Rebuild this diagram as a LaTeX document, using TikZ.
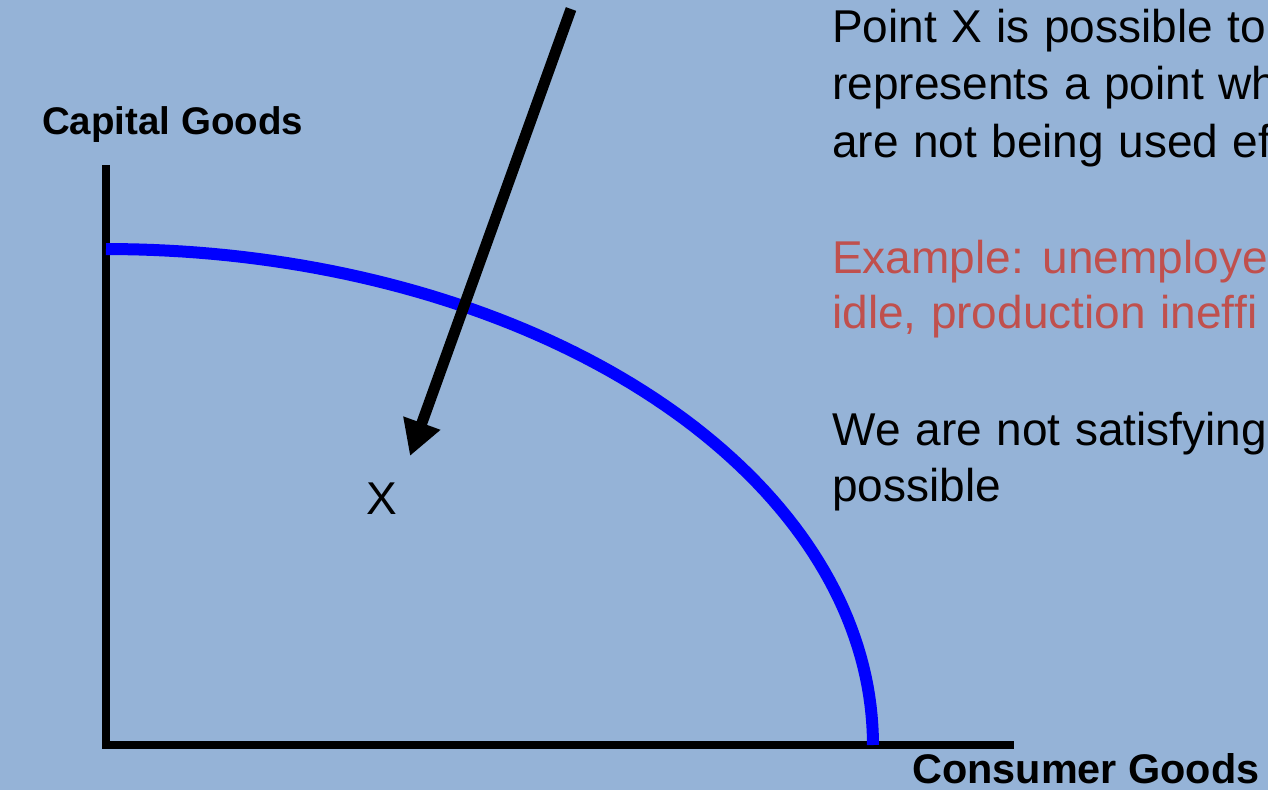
\documentclass[tikz,border=0pt]{standalone}
\usepackage{fontspec}
\setmainfont[Ligatures=NoCommon,Kerning=Off]{Liberation Sans}
\usetikzlibrary{arrows.meta}
\definecolor{bg}{RGB}{149,179,215}
\definecolor{exred}{RGB}{192,80,77}
\definecolor{ppfblue}{RGB}{0,0,255}
\newcommand\widespaces{\spaceskip=14.5pt\relax}
\begin{document}
\begin{tikzpicture}[x=1pt,y=-1pt,
  body/.style={anchor=base west,inner sep=0pt,font=\fontsize{46}{57}\selectfont,execute at begin node=\widespaces},
  axislabel/.style={anchor=base west,inner sep=0pt,font=\fontsize{#1}{48}\selectfont\bfseries},
  axisline/.style={line width=8pt},
  ppf/.style={line width=12pt,draw=ppfblue},
  pointer/.style={line width=11pt,-{Triangle[length=35pt,width=37pt]}}]
\fill[bg] (0,0) rectangle (1268,790);
\useasboundingbox (0,0) rectangle (1268,790);
\clip (0,0) rectangle (1268,790);
% axes
\coordinate (ytop) at (106,165);
\coordinate (origin) at (106,745);
\coordinate (xend) at (1014,745);
\draw[axisline] (ytop) -- (origin) -- (xend);
% curve
\draw[ppf] plot[domain=0:90,samples=80] ({106+767*sin(\x)},{745-496*cos(\x)});
% labels
\node[axislabel=38.5] (cap) at (42,134) {Capital Goods};
\node[axislabel=41.4] (con) at (912,783) {Consumer Goods};
\node[body] (x) at (366,514) {X};
% arrow
\coordinate (astart) at (571,9);
\coordinate (atip) at (410,456);
\draw[pointer] (astart) -- (atip);
% text
\node[body] (t1) at (832,42) {Point X is possible to};
\node[body] (t2) at (832,99) {represents a point wh};
\node[body] (t3) at (832,157) {are not being used ef};
\node[body,text=exred] (t4) at (832,273) {Example: unemploye};
\node[body,text=exred] (t5) at (832,328) {idle, production ineffi};
\node[body] (t6) at (832,445) {We are not satisfying};
\node[body] (t7) at (832,501) {possible};
\end{tikzpicture}
\end{document}
